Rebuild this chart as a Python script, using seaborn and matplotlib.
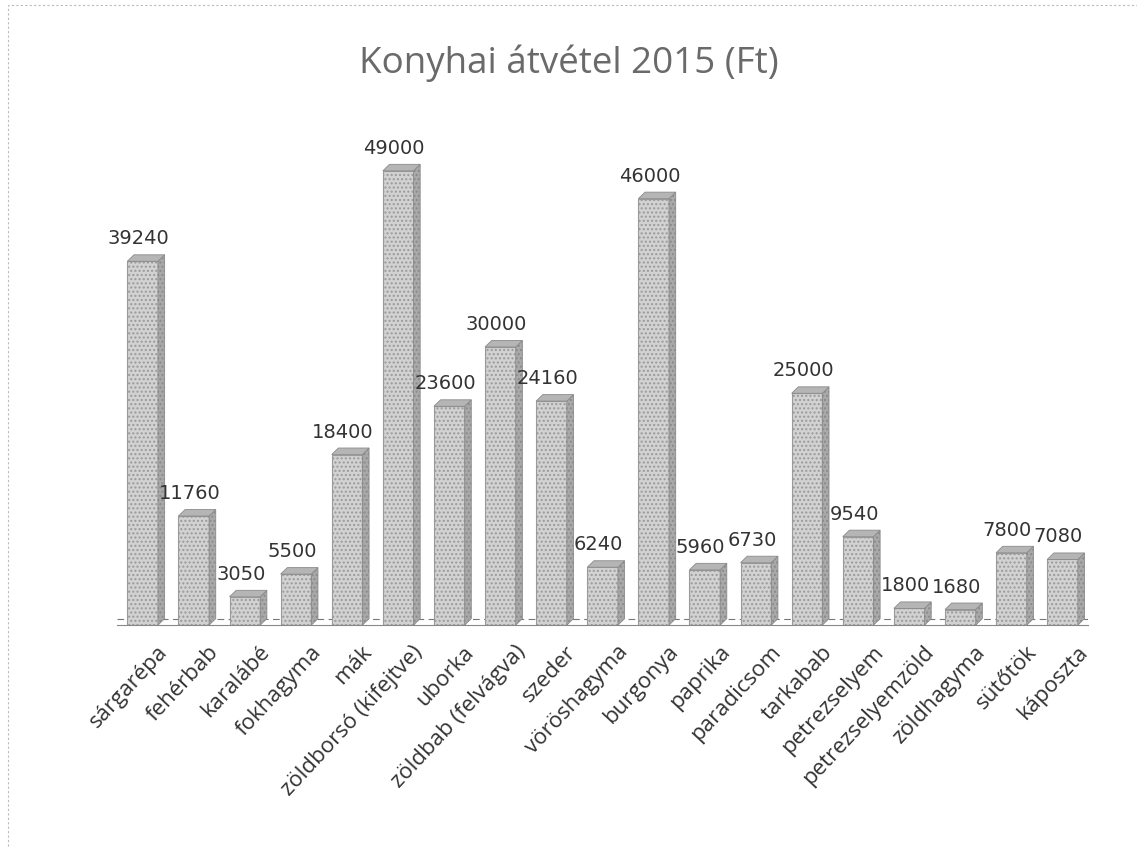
import matplotlib
matplotlib.use("Agg")
import matplotlib.pyplot as plt
import matplotlib.patches as mpatches
import matplotlib.transforms as mtrans
import pandas as pd
import seaborn as sns

# adatok
categories = ["sárgarépa", "fehérbab", "karalábé", "fokhagyma", "mák",
              "zöldborsó (kifejtve)", "uborka", "zöldbab (felvágva)", "szeder",
              "vöröshagyma", "burgonya", "paprika", "paradicsom", "tarkabab",
              "petrezselyem", "petrezselyemzöld", "zöldhagyma", "sütőtök", "káposzta"]
values = [39240, 11760, 3050, 5500, 18400, 49000, 23600, 30000, 24160, 6240,
          46000, 5960, 6730, 25000, 9540, 1800, 1680, 7800, 7080]

df = pd.DataFrame({"termek": categories, "ft": values})

sns.set_theme(style="white")
plt.rcParams["font.family"] = ["Open Sans", "DejaVu Sans"]

fig = plt.figure(figsize=(11.37, 8.47), dpi=100)
ax = fig.add_axes([0.103, 0.262, 0.854, 0.602])

sns.barplot(data=df, x="termek", y="ft", ax=ax, width=0.6,
            color="#d2d2d2", edgecolor="#9a9a9a", linewidth=0.8, saturation=1)

# egyszerű "3D" oldallap a régi Excel-diagram mintájára
depth_x = 0.13
depth_y = 700
for p in ax.patches:
    p.set_hatch("....")
    x0, w, h = p.get_x(), p.get_width(), p.get_height()
    side = mpatches.Polygon([[x0 + w, 0], [x0 + w + depth_x, depth_y],
                             [x0 + w + depth_x, h + depth_y], [x0 + w, h]],
                            closed=True, facecolor="#a9a9a9", edgecolor="#8a8a8a",
                            linewidth=0.6, hatch="....", zorder=p.get_zorder())
    top = mpatches.Polygon([[x0, h], [x0 + depth_x, h + depth_y],
                            [x0 + w + depth_x, h + depth_y], [x0 + w, h]],
                           closed=True, facecolor="#b5b5b5", edgecolor="#8a8a8a",
                           linewidth=0.6, zorder=p.get_zorder())
    ax.add_patch(side)
    ax.add_patch(top)

for i, v in enumerate(values):
    ax.text(i - 0.08, v + 1400, str(v), ha="center", va="bottom",
            fontsize=14, color="#333333", family=["DejaVu Sans"])

ax.set_xlim(-0.5, len(categories) - 0.5)
ax.set_ylim(0, 55000)
ax.axhline(depth_y, color="#777777", linestyle=(0, (6, 4)), linewidth=0.8, zorder=0)
ax.set_xlabel("")
ax.set_ylabel("")
ax.set_yticks([])
ax.set_xticks(range(len(categories)))
ax.set_xticklabels(categories, rotation=47, ha="right", rotation_mode="anchor",
                   fontsize=16, color="#333333")
ax.tick_params(axis="x", length=0, pad=12)
# címkék kissé jobbra tolva, mint az eredetin
shift = mtrans.ScaledTranslation(14 / 100, 0, fig.dpi_scale_trans)
for lbl in ax.get_xticklabels():
    lbl.set_transform(lbl.get_transform() + shift)
for s in ["top", "right", "left"]:
    ax.spines[s].set_visible(False)
ax.spines["bottom"].set_color("#888888")
ax.spines["bottom"].set_linestyle((0, (2, 1)))
ax.spines["bottom"].set_linewidth(0.8)

fig.suptitle("Konyhai átvétel 2015 (Ft)", x=0.5, y=0.948, fontsize=26.5, color="#6a6a6a")

# halvány keret, mint a beszkennelt lapon
fig.patches.append(mpatches.Rectangle((0.007, -0.01), 1.0, 1.004, transform=fig.transFigure,
                                      fill=False, edgecolor="#bbbbbb", linewidth=0.8,
                                      linestyle=(0, (2, 2))))

fig.savefig("out.png", dpi=100, facecolor="white")
